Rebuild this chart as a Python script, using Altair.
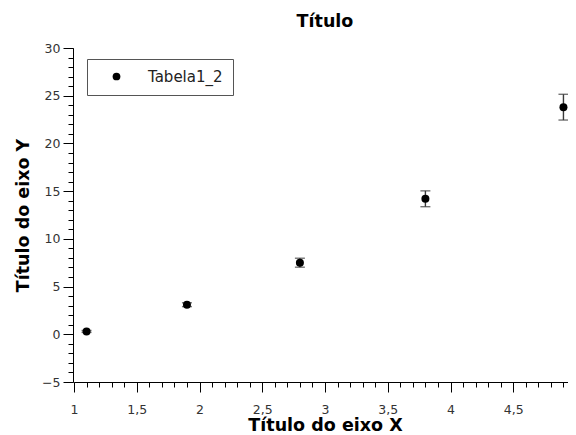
import altair as alt
import pandas as pd

x_vals = [1.1, 1.9, 2.8, 3.8, 4.9]
y_vals = [0.3, 3.1, 7.5, 14.2, 23.8]
y_err = [0.1, 0.2, 0.47, 0.83, 1.35]
series = ["Tabela1_2"] * 5

x_major = [1, 1.5, 2, 2.5, 3, 3.5, 4, 4.5, 5]
x_minor = [round(1 + 0.1 * i, 1) for i in range(41)]
y_major = [-5, 0, 5, 10, 15, 20, 25, 30]
y_minor = list(range(-5, 31))

df = pd.DataFrame({"x": x_vals, "y": y_vals, "err": y_err, "s": series})
df["lo"] = df["y"] - df["err"]
df["hi"] = df["y"] + df["err"]

FONT = "DejaVu Sans"
xs = alt.Scale(domain=[1, 5], nice=False, zero=False)
ys = alt.Scale(domain=[-5, 30], nice=False, zero=False)

major_x = alt.Axis(values=x_major, orient="bottom", tickSize=10, tickColor="black",
                   domainColor="black", labelFontSize=12.5, labelColor="#333333",
                   labelFont=FONT, labelPadding=11,
                   labelExpr="replace(format(datum.value, '.1~f'), '.', ',')",
                   title="Título do eixo X", titleFont=FONT, titleFontSize=17.5,
                   titleFontWeight="bold", titleColor="black", titlePadding=1,
                   grid=False, labelOverlap=False, labelFlush=False)
major_y = alt.Axis(values=y_major, orient="left", tickSize=10, tickColor="black",
                   domainColor="black", labelFontSize=12.5, labelColor="#333333",
                   labelFont=FONT, labelPadding=3, offset=1,
                   title="Título do eixo Y", titleFont=FONT, titleFontSize=17.5,
                   titleFontWeight="bold", titleColor="black", titlePadding=9,
                   grid=False, labelOverlap=False)
minor_x = alt.Axis(values=x_minor, orient="bottom", tickSize=5, tickColor="black",
                   labels=False, domain=False, title=None, grid=False)
minor_y = alt.Axis(values=y_minor, orient="left", tickSize=5, tickColor="black",
                   labels=False, domain=False, title=None, grid=False, offset=1)

base = alt.Chart(df)

rules = base.mark_rule(color="#3a3a3a", strokeWidth=1.4).encode(
    x=alt.X("x:Q", scale=xs, axis=minor_x),
    y=alt.Y("lo:Q", scale=ys, axis=minor_y),
    y2="hi:Q",
)
caps_lo = base.mark_tick(orient="horizontal", size=10, thickness=1.4, color="#3a3a3a").encode(
    x=alt.X("x:Q", scale=xs, axis=None),
    y=alt.Y("lo:Q", scale=ys, axis=None),
)
caps_hi = base.mark_tick(orient="horizontal", size=10, thickness=1.4, color="#3a3a3a").encode(
    x=alt.X("x:Q", scale=xs, axis=None),
    y=alt.Y("hi:Q", scale=ys, axis=None),
)
points = base.mark_point(filled=True, size=64, opacity=1, shape="circle").encode(
    x=alt.X("x:Q", scale=xs, axis=major_x),
    y=alt.Y("y:Q", scale=ys, axis=major_y),
    color=alt.Color("s:N", scale=alt.Scale(range=["black"]),
                    legend=alt.Legend(title=None, orient="none", legendX=13, legendY=11,
                                      padding=10, strokeColor="#555555", fillColor="white",
                                      labelFont=FONT, labelFontSize=15, labelColor="#222222",
                                      symbolSize=60, symbolType="circle",
                                      symbolOffset=12, labelOffset=24)),
)

chart = alt.layer(rules, caps_lo, caps_hi, points).resolve_axis(
    x="independent", y="independent"
).properties(
    width=502, height=334,
    title=alt.TitleParams("Título", font=FONT, fontSize=17.5, fontWeight="bold",
                          color="black", anchor="middle", baseline="alphabetic", offset=-2),
    autosize=alt.AutoSizeParams(type="none"),
    padding={"left": 66, "top": 40, "right": 0, "bottom": 53},
).configure_view(stroke=None)

CSS = (
    ".vega-embed { position: relative; box-sizing: border-box; }"
    ".vega-embed .chart-wrapper { flex-shrink: 0 !important; }"
    ".vega-embed svg { max-width: none !important; flex-shrink: 0 !important; }"
)

chart.save("out.html", embed_options={"renderer": "svg", "actions": False,
                                      "defaultStyle": CSS})
